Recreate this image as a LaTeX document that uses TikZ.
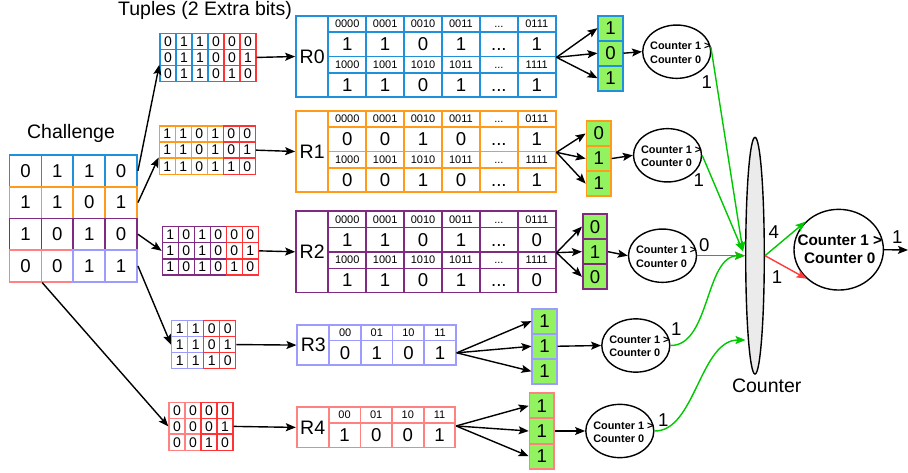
\documentclass[tikz,border=0pt]{standalone}
\usepackage{fontspec}
\setmainfont{Liberation Sans}
\usetikzlibrary{arrows.meta,shapes.geometric}
\definecolor{cblue}{HTML}{1E90DC}
\definecolor{corange}{HTML}{FF9A1A}
\definecolor{cpurple}{HTML}{802A82}
\definecolor{clav}{HTML}{9C9CFF}
\definecolor{cpink}{HTML}{FF8282}
\definecolor{cred}{HTML}{FF3333}
\definecolor{cgreen}{HTML}{93F25F}
\definecolor{cgl}{HTML}{00C800}
\definecolor{crl}{HTML}{FF3B3B}
\definecolor{cgray}{HTML}{EBEBEB}
\newcommand{\myBig}{\fontsize{18.6}{20}\selectfont}
\newcommand{\myLab}{\fontsize{19.5}{21}\selectfont}
\newcommand{\myHdr}{\fontsize{11}{12}\selectfont}
\newcommand{\myTup}{\fontsize{14}{15}\selectfont}
\newcommand{\myCnt}{\bfseries\fontsize{10.9}{13.3}\selectfont}
\newcommand{\myFin}{\bfseries\fontsize{15.3}{18.3}\selectfont}
\newcommand{\mydd}{\vphantom{0}...}
\tikzset{
  arr/.style={line width=1.4pt,-{Stealth[length=10pt,width=8pt,inset=2pt]}},
  chcell/.style={draw,line width=1.7pt,minimum width=31.9pt,minimum height=31.7pt,inner sep=0pt,font=\myBig},
  tcell/.style={draw,line width=1.4pt,minimum width=16pt,minimum height=16.1pt,inner sep=0pt,font=\myTup},
  lcell/.style={draw,line width=1.7pt,inner sep=0pt,font=\myLab},
  hcell/.style={draw,line width=1.7pt,inner sep=0pt,minimum height=16.6pt,font=\myHdr},
  bcell/.style={draw,line width=1.7pt,inner sep=0pt,minimum height=24.2pt,font=\myBig},
  gbox/.style={draw,fill=cgreen,line width=1.7pt,minimum width=24.4pt,minimum height=25pt,inner sep=0pt,font=\myBig},
  cnt/.style={ellipse,draw,line width=1.4pt,minimum width=68pt,minimum height=53.3pt,inner sep=0pt},
  ctext/.style={font=\myCnt,align=left,inner sep=0pt,anchor=west},
  lbl/.style={font=\myBig,inner sep=0pt},
  ttl/.style={font=\myLab,inner sep=0pt}
}
\newcommand{\mytable}[6]{%
  \node[lcell,draw=#3,minimum width=32.3pt,minimum height=81.6pt] (#1) at (312.15,{#2+40.8}) {#6};
  \foreach \h [count=\k] in {0000,0001,0010,0011,{\mydd},0111}
    \node[hcell,draw=#3,minimum width=37.9pt] (#1-h1-\k) at ({328.3+37.9*(\k-0.5)},{#2+8.3}) {\h};
  \foreach \v [count=\k] in {#4}
    \node[bcell,draw=#3,minimum width=37.9pt] (#1-b1-\k) at ({328.3+37.9*(\k-0.5)},{#2+28.7}) {\v};
  \foreach \h [count=\k] in {1000,1001,1010,1011,{\mydd},1111}
    \node[hcell,draw=#3,minimum width=37.9pt] (#1-h2-\k) at ({328.3+37.9*(\k-0.5)},{#2+49.1}) {\h};
  \foreach \v [count=\k] in {#5}
    \node[bcell,draw=#3,minimum width=37.9pt] (#1-b2-\k) at ({328.3+37.9*(\k-0.5)},{#2+69.5}) {\v};
}
\newcommand{\mysmall}[6]{%
  \node[lcell,draw=#4,minimum width=32pt,minimum height=40.2pt] (#1) at ({#2+16},{#3+20.1}) {#6};
  \foreach \h [count=\k] in {00,01,10,11}
    \node[hcell,draw=#4,minimum width=31.65pt,minimum height=15.5pt] (#1-h-\k) at ({#2+32+31.65*(\k-0.5)},{#3+7.75}) {\h};
  \foreach \v [count=\k] in {#5}
    \node[bcell,draw=#4,minimum width=31.65pt,minimum height=24.7pt] (#1-b-\k) at ({#2+32+31.65*(\k-0.5)},{#3+27.85}) {\v};
}
\begin{document}
\begin{tikzpicture}[x=1pt,y=-1pt]
\useasboundingbox (0,0) rectangle (908,473);

% titles
\node[ttl] (tpl) at (205,10) {Tuples (2 Extra bits)};
\node[ttl] (chl) at (71,133) {Challenge};

% challenge grid
\foreach \v [count=\i] in {0,1,1,0}
  \node[chcell,draw=cblue] (ch1-\i) at ({9.5+31.9*(\i-0.5)},170.85) {\v};
\foreach \v [count=\i] in {1,1,0,1}
  \node[chcell,draw=corange] (ch2-\i) at ({9.5+31.9*(\i-0.5)},202.55) {\v};
\foreach \v [count=\i] in {1,0,1,0}
  \node[chcell,draw=cpurple] (ch3-\i) at ({9.5+31.9*(\i-0.5)},234.25) {\v};
\foreach \v/\cc [count=\i] in {0/cpink,0/cpink,1/clav,1/clav}
  \node[chcell,draw=\cc] (ch4-\i) at ({9.5+31.9*(\i-0.5)},265.95) {\v};

% tuple grids
\foreach \row [count=\r] in {{0,1,1,0,0,0},{0,1,1,0,0,1},{0,1,1,0,1,0}}
  \foreach \v [count=\c] in \row {
    \ifnum\c>4 \def\cc{cred}\else\def\cc{cblue}\fi
    \node[tcell,draw=\cc] (t0-\r-\c) at ({160+16*(\c-0.5)},{33.3+16.1*(\r-0.5)}) {\v};
  }
\foreach \row [count=\r] in {{1,1,0,1,0,0},{1,1,0,1,0,1},{1,1,0,1,1,0}}
  \foreach \v [count=\c] in \row {
    \ifnum\c>4 \def\cc{cred}\else\def\cc{corange}\fi
    \node[tcell,draw=\cc] (t1-\r-\c) at ({159.3+16*(\c-0.5)},{126+16.1*(\r-0.5)}) {\v};
  }
\foreach \row [count=\r] in {{1,0,1,0,0,0},{1,0,1,0,0,1},{1,0,1,0,1,0}}
  \foreach \v [count=\c] in \row {
    \ifnum\c>4 \def\cc{cred}\else\def\cc{cpurple}\fi
    \node[tcell,draw=\cc] (t2-\r-\c) at ({162.3+16*(\c-0.5)},{226.7+16.1*(\r-0.5)}) {\v};
  }
\foreach \row [count=\r] in {{1,1,0,0},{1,1,0,1},{1,1,1,0}}
  \foreach \v [count=\c] in \row {
    \ifnum\c>2 \def\cc{cred}\else\def\cc{clav}\fi
    \node[tcell,draw=\cc] (t3-\r-\c) at ({171.7+16*(\c-0.5)},{320.7+15.9*(\r-0.5)}) {\v};
  }
\foreach \row [count=\r] in {{0,0,0,0},{0,0,0,1},{0,0,1,0}}
  \foreach \v [count=\c] in \row {
    \ifnum\c>2 \def\cc{cred}\else\def\cc{cpink}\fi
    \node[tcell,draw=\cc] (t4-\r-\c) at ({169+16*(\c-0.5)},{402.7+15.8*(\r-0.5)}) {\v};
  }

% challenge -> tuples
\draw[arr] (ch1-4.east) -- (t0-3-1.north west);
\draw[arr] (ch2-4.east) -- (t1-3-1.north west);
\draw[arr] (ch3-4.east) -- (t2-2-1.west);
\draw[arr] (ch4-4.east) -- (t3-2-1.west);
\draw[arr] (ch4-1.south east) -- (t4-2-1.west);

% tables
\mytable{R0}{15.7}{cblue}{1,1,0,1,{\mydd},1}{1,1,0,1,{\mydd},1}{R0}
\mytable{R1}{110.7}{corange}{0,0,1,0,{\mydd},1}{0,0,1,0,{\mydd},1}{R1}
\mytable{R2}{211}{cpurple}{1,1,0,1,{\mydd},0}{1,1,0,1,{\mydd},0}{R2}
\mysmall{R3}{297.3}{325}{clav}{0,1,0,1}{R3}
\mysmall{R4}{296.7}{407.3}{cpink}{1,0,0,1}{R4}

% tuples -> tables
\draw[arr] (t0-2-6.east) -- (R0.west);
\draw[arr] (t1-2-6.east) -- (R1.west);
\draw[arr] (t2-2-6.east) -- (R2.west);
\draw[arr] (t3-2-4.east) -- (R3.west);
\draw[arr] (t4-2-4.east) -- (R4.west);

% green output boxes
\foreach \v [count=\k] in {1,0,1}
  \node[gbox,draw=cblue] (g0-\k) at (610.5,{28.2+25*(\k-1)}) {\v};
\foreach \v [count=\k] in {0,1,1}
  \node[gbox,draw=corange] (g1-\k) at (598.7,{133.5+25.05*(\k-1)}) {\v};
\foreach \v [count=\k] in {0,1,0}
  \node[gbox,draw=cpurple] (g2-\k) at (595,{226.6+25.1*(\k-1)}) {\v};
\foreach \v [count=\k] in {1,1,1}
  \node[gbox,draw=clav] (g3-\k) at (544.5,{321.2+25.05*(\k-1)}) {\v};
\foreach \v [count=\k] in {1,1,1}
  \node[gbox,draw=cpink] (g4-\k) at (541.7,{405.8+25.2*(\k-1)}) {\v};

% fans
\coordinate (f4) at ([yshift=-4pt]R4-b-4.north east);
\foreach \k in {1,2,3} {
  \draw[arr] (R0-b1-6.south east) -- (g0-\k.west);
  \draw[arr] (R1-b1-6.south east) -- (g1-\k.west);
  \draw[arr] (R2-b1-6.south east) -- (g2-\k.west);
  \draw[arr] (R3-b-4.east) -- (g3-\k.west);
  \draw[arr] (f4) -- (g4-\k.west);
}

% small counters
\node[cnt] (E0) at (676.7,51.7) {};
\node[cnt] (E1) at (667.5,155.3) {};
\node[cnt] (E2) at (662.5,255.7) {};
\node[cnt] (E3) at (635.8,345.5) {};
\node[cnt] (E4) at (619.8,431) {};
\foreach \e in {E0,E1,E2,E3,E4}
  \node[ctext] (\e t) at ([xshift=-26.7pt,yshift=-1pt]\e.center) {Counter 1 >\\Counter 0};

\draw[arr] (g0-2.east) -- (E0.west);
\draw[arr] (g1-2.east) -- (E1.west);
\draw[arr] (g2-2.east) -- (E2.west);
\draw[arr] (g3-2.east) -- (E3.west);
\draw[arr] (g4-2.east) -- (E4.west);

% big counter
\node[ellipse,draw,fill=cgray,line width=1.4pt,minimum width=18.6pt,minimum height=236.7pt,inner sep=0pt] (C) at (755,255.7) {};
\node[ttl] (Clab) at (766.7,385.7) {Counter};

\coordinate (cin1) at (743,251.5);
\coordinate (cin4) at (745.5,340);
\draw[arr,cgl] (E0.8) -- (cin1);
\draw[arr,cgl] (E1.east) -- (cin1);
\draw[arr,crl] (E2.east) -- (C.west);
\draw[arr,cgl] (E3.east) .. controls (710,346) and (705,256) .. (C.west);
\draw[arr,cgl] (E4.east) .. controls (695,431.7) and (700,340) .. (cin4);

\node[lbl] (l0) at (706.7,81.7) {1};
\node[lbl] (l1) at (698.7,180.3) {1};
\node[lbl] (l2) at (704.2,245.3) {0};
\node[lbl] (l3) at (676.2,329.2) {1};
\node[lbl] (l4) at (663.3,420.3) {1};

% final counter
\node[ellipse,draw,line width=1.4pt,minimum width=89.4pt,minimum height=80.7pt,inner sep=0pt] (F) at (838.7,249.7) {};
\node[font=\myFin,align=center,inner sep=0pt] (Ft) at (839.8,249.5) {Counter 1 >\\Counter 0};
\draw[arr,cgl] (C.east) -- (F.140);
\draw[arr,crl] (C.east) -- (F.222);
\coordinate (out) at (908,250);
\draw[arr] (F.east) -- (out);
\node[lbl] (l5) at (773.8,232.2) {4};
\node[lbl] (l6) at (777,276.7) {1};
\node[lbl] (l7) at (897.2,236.7) {1};
\end{tikzpicture}
\end{document}
